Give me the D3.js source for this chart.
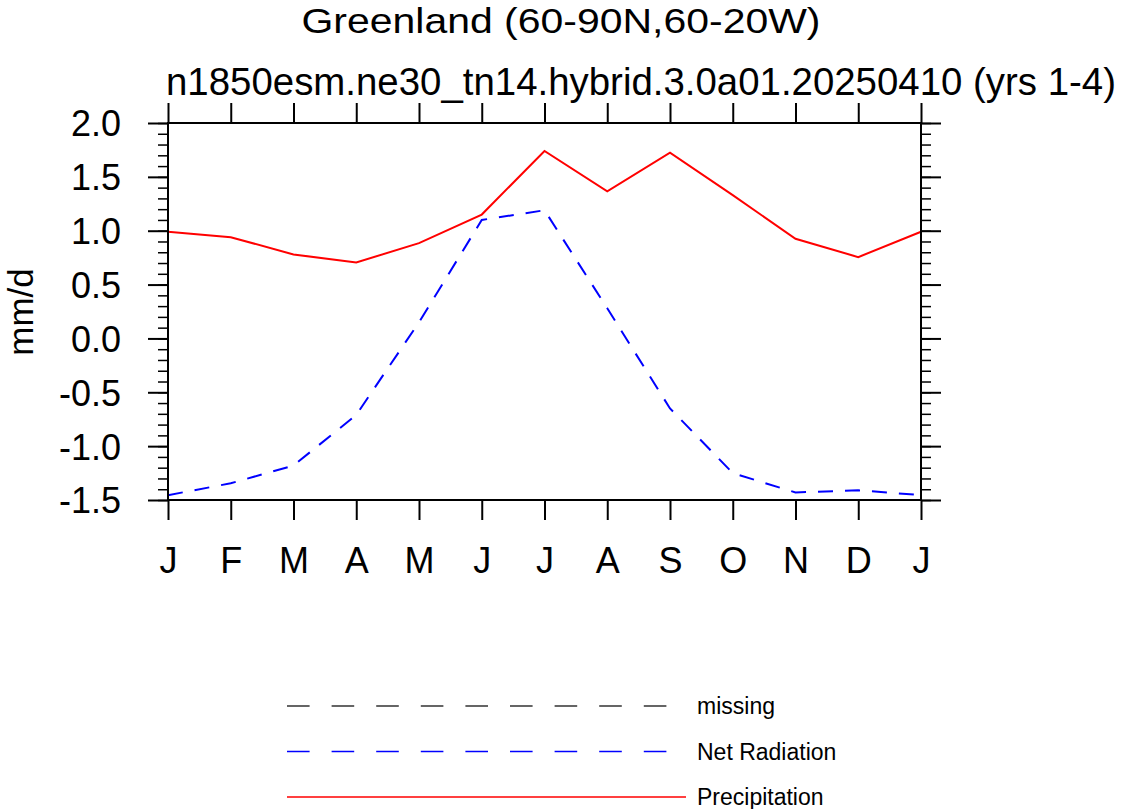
<!DOCTYPE html>
<html>
<head>
<meta charset="utf-8">
<script src="https://cdn.jsdelivr.net/npm/d3@7"></script>
<style>
  body { margin: 0; background: #fff; }
  svg { display: block; font-family: "Liberation Sans", Arial, Helvetica, sans-serif; }
</style>
</head>
<body>
<div id="chart"></div>
<script>
// month labels, J..J (13 points, Jan repeated at the end)
const months = ["J", "F", "M", "A", "M", "J", "J", "A", "S", "O", "N", "D", "J"];
const precip = [0.99, 0.94, 0.78, 0.705, 0.885, 1.15, 1.74, 1.365, 1.725, 1.33, 0.925, 0.755, 0.99];
const netRad = [-1.455, -1.345, -1.18, -0.71, 0.15, 1.10, 1.19, 0.28, -0.65, -1.25, -1.43, -1.41, -1.455];
const yTicks = [-1.5, -1.0, -0.5, 0.0, 0.5, 1.0, 1.5, 2.0];
const yMinor = d3.range(-15, 21).map(d => d / 10);

const legendNames = ["missing", "Net Radiation", "Precipitation"];
const legendColors = ["#333333", "blue", "red"];

const title = "Greenland (60-90N,60-20W)";
const subtitle = "n1850esm.ne30_tn14.hybrid.3.0a01.20250410 (yrs 1-4)";

const W = 1123, H = 809;
const plot = { left: 168, right: 921, top: 123, bottom: 500 };

const svg = d3.select("#chart").append("svg")
  .attr("width", W)
  .attr("height", H);

const x = d3.scaleLinear().domain([0, months.length - 1]).range([plot.left, plot.right]);
const y = d3.scaleLinear().domain([-1.5, 2.0]).range([plot.bottom, plot.top]);

// titles
svg.append("text")
  .attr("x", 561).attr("y", 33)
  .attr("text-anchor", "middle")
  .attr("font-size", 35)
  .attr("textLength", 519)
  .attr("lengthAdjust", "spacingAndGlyphs")
  .text(title);

svg.append("text")
  .attr("x", 641).attr("y", 95)
  .attr("text-anchor", "middle")
  .attr("font-size", 38.4)
  .attr("textLength", 950)
  .attr("lengthAdjust", "spacingAndGlyphs")
  .text(subtitle);

// y label
svg.append("text")
  .attr("transform", "translate(33,312) rotate(-90)")
  .attr("text-anchor", "middle")
  .attr("font-size", 35)
  .text("mm/d");

function styleAxis(g, width) {
  g.select(".domain").remove();
  g.selectAll(".tick line").attr("stroke", "#000").attr("stroke-width", width);
}

const monthIdx = d3.range(months.length);

// minor ticks left/right
svg.append("g")
  .attr("transform", `translate(${plot.left},0)`)
  .call(d3.axisLeft(y).tickValues(yMinor).tickSize(10).tickFormat(""))
  .call(g => styleAxis(g, 1.5));
svg.append("g")
  .attr("transform", `translate(${plot.right},0)`)
  .call(d3.axisRight(y).tickValues(yMinor).tickSize(10).tickFormat(""))
  .call(g => styleAxis(g, 1.5));

// major ticks
svg.append("g")
  .attr("transform", `translate(${plot.left},0)`)
  .call(d3.axisLeft(y).tickValues(yTicks).tickSize(20).tickPadding(27)
    .tickFormat(d => d.toFixed(1)))
  .call(g => styleAxis(g, 2))
  .call(g => g.selectAll("text").attr("font-size", 36).attr("fill", "#000")
    .attr("font-family", "Liberation Sans, Arial, sans-serif").attr("dy", "0.36em"));

svg.append("g")
  .attr("transform", `translate(${plot.right},0)`)
  .call(d3.axisRight(y).tickValues(yTicks).tickSize(20).tickFormat(""))
  .call(g => styleAxis(g, 2));

svg.append("g")
  .attr("transform", `translate(0,${plot.top})`)
  .call(d3.axisTop(x).tickValues(monthIdx).tickSize(20).tickFormat(""))
  .call(g => styleAxis(g, 2));

svg.append("g")
  .attr("transform", `translate(0,${plot.bottom})`)
  .call(d3.axisBottom(x).tickValues(monthIdx).tickSize(20).tickPadding(27)
    .tickFormat(i => months[i]))
  .call(g => styleAxis(g, 2))
  .call(g => g.selectAll("text").attr("font-size", 36).attr("fill", "#000")
    .attr("font-family", "Liberation Sans, Arial, sans-serif"));

// data lines
const line = d3.line().x((d, i) => x(i)).y(d => y(d));

svg.append("path")
  .datum(netRad)
  .attr("d", line)
  .attr("fill", "none")
  .attr("stroke", "blue")
  .attr("stroke-width", 2)
  .attr("stroke-dasharray", "15,12");

svg.append("path")
  .datum(precip)
  .attr("d", line)
  .attr("fill", "none")
  .attr("stroke", "red")
  .attr("stroke-width", 2);

// frame
svg.append("rect")
  .attr("x", plot.left).attr("y", plot.top)
  .attr("width", plot.right - plot.left)
  .attr("height", plot.bottom - plot.top)
  .attr("fill", "none")
  .attr("stroke", "#000")
  .attr("stroke-width", 2);

// legend
const legY = d3.scalePoint().domain(legendNames).range([706, 797]);
const leg = svg.append("g");
legendNames.forEach((name, i) => {
  const yy = legY(name);
  leg.append("line")
    .attr("x1", 287).attr("x2", i == 2 ? 686 : 668)
    .attr("y1", yy).attr("y2", yy)
    .attr("stroke", legendColors[i])
    .attr("stroke-width", 1.4)
    .attr("stroke-dasharray", i == 2 ? null : "22.6,22");
  leg.append("text")
    .attr("x", 697).attr("y", yy)
    .attr("dy", "0.36em")
    .attr("font-size", 23)
    .text(name);
});
</script>
</body>
</html>
